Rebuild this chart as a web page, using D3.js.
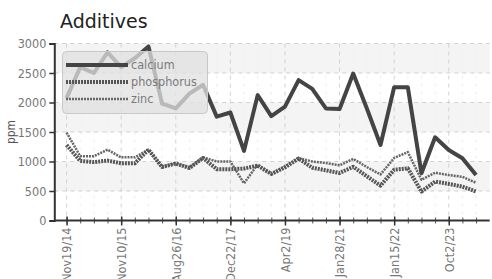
<!DOCTYPE html>
<html><head><meta charset="utf-8">
<script src="https://cdn.jsdelivr.net/npm/d3@7"></script>
<style>
html,body{margin:0;padding:0;background:#fff;overflow:hidden}
svg{display:block}
text{font-family:"DejaVu Sans Condensed","Liberation Sans Narrow",sans-serif}
</style></head>
<body><svg id="c" width="492" height="279"></svg>
<script>
const title = "Additives";
const yLabel = "ppm";
const dates = ["Nov19/14","","","","Nov10/15","","","","Aug26/16","","","","Dec22/17","","","","Apr2/19","","","","Jan28/21","","","","Jan15/22","","","","Oct2/23","",""];
const calcium    = [2075,2600,2500,2850,2600,2750,2950,1980,1900,2150,2300,1760,1830,1180,2125,1770,1930,2380,2230,1900,1890,2490,1900,1280,2260,2260,800,1410,1195,1055,770];
const phosphorus = [1280,1010,990,1015,970,970,1200,905,965,890,1060,870,870,880,930,790,900,1050,895,850,805,910,750,590,860,885,490,660,620,575,490];
const zinc       = [1490,1090,1090,1200,1070,1070,1200,910,970,900,1070,1000,1000,630,950,790,920,1060,1000,975,935,1045,905,780,1060,1160,690,810,770,740,640];
const yTicks = [0,500,1000,1500,2000,2500,3000];
const seriesNames = ["calcium","phosphorus","zinc"];

const FONT = '"DejaVu Sans Condensed","Liberation Sans Narrow",sans-serif';
const svg = d3.select("#c");
const x = d3.scaleLinear().domain([-0.9, 31]).range([54.3, 489.7]);
const y = d3.scaleLinear().domain([0, 3000]).range([220.5, 43.5]);
const idx = d3.range(dates.length);

// background bands
const bands = d3.pairs(yTicks).filter((p,i)=>i%2===1);
svg.append("g").selectAll("rect").data(bands).join("rect")
  .attr("x", x(-0.9)).attr("width", x(31)-x(-0.9))
  .attr("y", d=>y(d[1])).attr("height", d=>y(d[0])-y(d[1]))
  .attr("fill","#f4f4f4");

// minor vertical grid
svg.append("g").selectAll("line").data(idx.filter(i=>i%4!==0)).join("line")
  .attr("x1",d=>x(d)).attr("x2",d=>x(d)).attr("y1",y(3000)).attr("y2",y(0))
  .attr("stroke","#efefef").attr("stroke-dasharray","3,5");
// major vertical grid
svg.append("g").selectAll("line").data(idx.filter(i=>i%4===0)).join("line")
  .attr("x1",d=>x(d)).attr("x2",d=>x(d)).attr("y1",y(3000)).attr("y2",y(0))
  .attr("stroke","#d2d2d2").attr("stroke-dasharray","4,4");
// horizontal grid
svg.append("g").selectAll("line").data(yTicks.slice(1)).join("line")
  .attr("x1",x(-0.9)).attr("x2",x(31)).attr("y1",d=>y(d)).attr("y2",d=>y(d))
  .attr("stroke","#d2d2d2").attr("stroke-dasharray","4,4");

// lines
const line = d3.line().x((d,i)=>x(i)).y(d=>y(d));
const styles = {
  calcium:{stroke:"#444", width:4, dash:null},
  phosphorus:{stroke:"#555", width:4, dash:"2,1"},
  zinc:{stroke:"#666", width:2.5, dash:"2,1"}
};
const data = {calcium, phosphorus, zinc};
["zinc","phosphorus","calcium"].forEach(n=>{
  svg.append("path").datum(data[n]).attr("d",line)
    .attr("fill","none").attr("stroke",styles[n].stroke)
    .attr("stroke-width",styles[n].width)
    .attr("stroke-linejoin","round")
    .attr("stroke-dasharray",styles[n].dash);
});

// axes
const yAxis = d3.axisLeft(y).tickValues(yTicks).tickSize(5).tickPadding(3).tickFormat(d3.format("d"));
const gy = svg.append("g").attr("transform",`translate(${x(-0.9)},0)`).call(yAxis);
gy.select(".domain").attr("stroke","#333").attr("stroke-width",2);
gy.selectAll(".tick line").attr("stroke","#333").attr("stroke-width",1.5);
gy.selectAll(".tick text").attr("fill","#777").style("font-size","12.5px").style("font-family",FONT);

const xMinor = d3.axisBottom(x).tickValues(idx).tickSize(3).tickFormat("");
const gxm = svg.append("g").attr("transform",`translate(0,${y(0)})`).call(xMinor);
gxm.select(".domain").remove();
gxm.selectAll(".tick line").attr("stroke","#555").attr("y1",-3);

const xAxis = d3.axisBottom(x).tickValues(idx.filter(i=>i%4===0)).tickSize(5).tickFormat(i=>dates[i]);
const gx = svg.append("g").attr("transform",`translate(0,${y(0)})`).call(xAxis);
gx.select(".domain").attr("d",`M${x(-0.9)},0H${x(31)}`).attr("stroke","#333").attr("stroke-width",2);
gx.selectAll(".tick line").attr("stroke","#333").attr("stroke-width",1.5).attr("y1",-4);
gx.selectAll(".tick text")
  .attr("fill","#777").style("font-size","12.5px").style("font-family",FONT)
  .attr("text-anchor","end").attr("dy","0.35em")
  .attr("transform","translate(0,7) rotate(-90)")
  .attr("x",0).attr("y",0);

// y label
svg.append("text").attr("transform","translate(15,132) rotate(-90)")
  .attr("text-anchor","middle").attr("fill","#555").style("font-size","12px").text(yLabel);

// title
svg.append("text").attr("x",60).attr("y",28).attr("fill","#222")
  .style("font-family","'DejaVu Sans',sans-serif").style("font-size","19px").text(title);

// legend
const lg = svg.append("g");
lg.append("rect").attr("x",62.5).attr("y",51.5).attr("width",145).attr("height",62).attr("rx",4)
  .attr("fill","rgba(224,224,224,0.75)").attr("stroke","#c8c8c8");
const ly = d3.scalePoint().domain(seriesNames).range([65,99]);
seriesNames.forEach(n=>{
  lg.append("line").attr("x1",66).attr("x2",128).attr("y1",ly(n)).attr("y2",ly(n))
    .attr("stroke",styles[n].stroke).attr("stroke-width",styles[n].width)
    .attr("stroke-dasharray",styles[n].dash);
  lg.append("text").attr("x",131).attr("y",ly(n)).attr("dy","0.35em")
    .attr("fill","#7a7a7a").style("font-size","12.5px").text(n);
});
</script></body></html>
